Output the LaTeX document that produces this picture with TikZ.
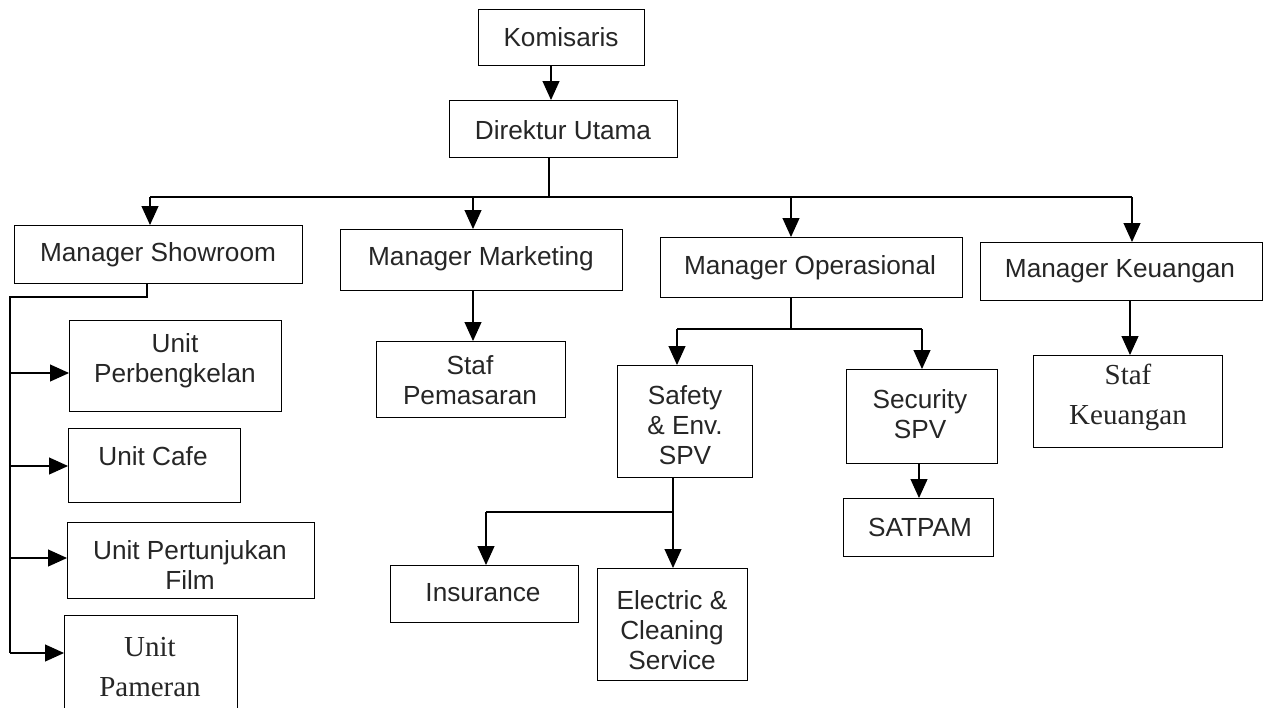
\documentclass[tikz,border=0pt]{standalone}
\usepackage{fontspec}
\setmainfont{Liberation Sans}
\newfontfamily\serifx{Liberation Serif}
\usetikzlibrary{arrows.meta}
\newcommand{\obox}[5]{\node[box, anchor=north west, minimum width=#4pt-#2pt, minimum height=#5pt-#3pt] (#1) at (#2,#3) {};}
\begin{document}
\begin{tikzpicture}[x=1pt,y=-1pt,
  box/.style={draw, line width=1.1pt, rectangle, inner sep=0pt},
  lbl/.style={font=\fontsize{26.2}{30}\selectfont, align=center, inner sep=0pt, text=black!85},
  slbl/.style={font=\serifx\fontsize{29}{40}\selectfont, align=center, inner sep=0pt, text=black!85},
  con/.style={line width=1.1pt},
  arr/.style={line width=1.1pt, -{Triangle[width=17pt,length=19pt]}}]
\useasboundingbox (0,0) rectangle (1265,707);
\fill[white] (0,0) rectangle (1265,707);

% boxes
\obox{kom}{478}{9}{644}{65}
\obox{dir}{449}{100}{677}{157}
\obox{msh}{14}{225}{302}{283}
\obox{mmk}{340}{229}{622}{290}
\obox{mop}{660}{237}{962}{297}
\obox{mku}{980}{242}{1262}{300}
\obox{upb}{69}{320}{281}{411}
\obox{ucf}{68}{428}{240}{502}
\obox{upf}{67}{522}{314}{598}
\obox{upm}{64}{615}{237}{712}
\obox{stp}{376}{341}{565}{417}
\obox{saf}{617}{365}{752}{477}
\obox{sec}{846}{369}{997}{463}
\obox{sat}{843}{498}{993}{556}
\obox{sku}{1033}{355}{1222}{447}
\obox{ins}{390}{565}{578}{622}
\obox{ele}{597}{568}{747}{680}

% texts
\node[lbl] (kom-t) at (561,37) {Komisaris};
\node[lbl] (dir-t) at (563,130) {Direktur Utama};
\node[lbl] (msh-t) at (158,255) {Manager Showroom};
\node[lbl] (mmk-t) at (481,259) {Manager Marketing};
\node[lbl] (mop-t) at (810,268) {Manager Operasional};
\node[lbl] (mku-t) at (1120,271) {Manager Keuangan};
\node[lbl] (upb-t) at (175,361) {Unit\\Perbengkelan};
\node[lbl] (ucf-t) at (153,456) {Unit Cafe};
\node[lbl] (upf-t) at (190,565) {Unit Pertunjukan\\Film};
\node[slbl] (upm-t) at (150,667) {Unit\\Pameran};
\node[lbl] (stp-t) at (470,380) {Staf\\Pemasaran};
\node[lbl] (saf-t) at (685,425) {Safety\\\&\ Env.\\SPV};
\node[lbl] (sec-t) at (920,414) {Security\\SPV};
\node[lbl] (sat-t) at (920,527) {SATPAM};
\node[slbl] (sku-t) at (1128,397) {Staf\\Keuangan};
\node[lbl] (ins-t) at (483,593) {Insurance};
\node[lbl] (ele-t) at (672,630) {Electric \&\\Cleaning\\Service};

% Komisaris -> Direktur
\coordinate (k) at (551,0);
\draw[arr] (kom.south -| k) -- (dir.north -| k);

% Direktur -> managers
\coordinate (j0) at (549,197);
\coordinate (jL) at (150,197);
\coordinate (jR) at (1132,197);
\coordinate (jMk) at (473,197);
\coordinate (jOp) at (791,197);
\draw[con] (dir.south -| j0) -- (j0);
\draw[con] (jL) -- (jR);
\draw[arr] (jL) -- (msh.north -| jL);
\draw[arr] (jMk) -- (mmk.north -| jMk);
\draw[arr] (jOp) -- (mop.north -| jOp);
\draw[arr] (jR) -- (mku.north -| jR);

% Showroom -> units
\coordinate (s1) at (147,297);
\coordinate (s2) at (10,297);
\coordinate (a1) at (10,373);
\coordinate (a2) at (10,466);
\coordinate (a3) at (10,558);
\coordinate (a4) at (10,653);
\draw[con] (msh.south -| s1) -- (s1) -- (s2) -- (a4);
\draw[arr] (a1) -- (upb.west |- a1);
\draw[arr] (a2) -- (ucf.west |- a2);
\draw[arr] (a3) -- (upf.west |- a3);
\draw[arr] (a4) -- (upm.west |- a4);

% Marketing -> Staf Pemasaran
\coordinate (m) at (473,0);
\draw[arr] (mmk.south -| m) -- (stp.north -| m);

% Operasional -> SPVs
\coordinate (o1) at (791,329);
\coordinate (oL) at (677,329);
\coordinate (oR) at (922,329);
\draw[con] (mop.south -| o1) -- (o1);
\draw[con] (oL) -- (oR);
\draw[arr] (oL) -- (saf.north -| oL);
\draw[arr] (oR) -- (sec.north -| oR);

% Security -> SATPAM
\coordinate (t) at (919,0);
\draw[arr] (sec.south -| t) -- (sat.north -| t);

% Keuangan -> Staf Keuangan
\coordinate (q) at (1130,0);
\draw[arr] (mku.south -| q) -- (sku.north -| q);

% Safety -> Insurance, Electric
\coordinate (f1) at (673,512);
\coordinate (fL) at (486,512);
\draw[con] (saf.south -| f1) -- (f1) -- (fL);
\draw[arr] (fL) -- (ins.north -| fL);
\draw[arr] (f1) -- (ele.north -| f1);
\end{tikzpicture}
\end{document}
